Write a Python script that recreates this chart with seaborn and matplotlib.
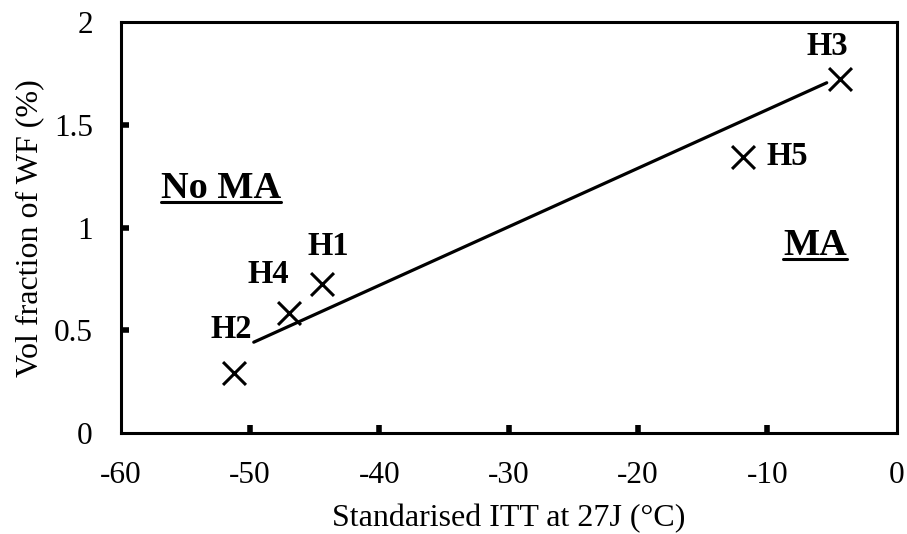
import matplotlib
matplotlib.use('Agg')
import matplotlib.pyplot as plt
import seaborn as sns
import pandas as pd
from matplotlib.lines import Line2D

# ---- data ----
samples = ['H2', 'H4', 'H1', 'H5', 'H3']
itt = [-51.2, -47.0, -44.4, -11.9, -4.4]
wf = [0.295, 0.584, 0.726, 1.346, 1.723]
trend_x = [-49.7, -5.4]
trend_y = [0.443, 1.706]
x_ticks = [-60, -50, -40, -30, -20, -10, 0]
y_ticks = [0, 0.5, 1, 1.5, 2]
y_tick_labels = ['0', '0.5', '1', '1.5', '2']
region_labels = ['No MA', 'MA']

df = pd.DataFrame({'sample': samples, 'itt': itt, 'wf': wf})
trend = pd.DataFrame({'x': trend_x, 'y': trend_y})

sns.set_theme(style='white')
plt.rcParams['font.family'] = ['Liberation Serif', 'DejaVu Serif']

fig = plt.figure(figsize=(9.07, 5.34), dpi=100)
ax = fig.add_axes([0.1329, 0.1888, 0.8556, 0.7693])

sns.lineplot(data=trend, x='x', y='y', ax=ax, color='black', linewidth=2.3)
sns.scatterplot(data=df, x='itt', y='wf', ax=ax, marker='x', s=16.5 ** 2,
                color='black', linewidth=2.2, zorder=3)

ax.set_xlim(-60, 0)
ax.set_ylim(0, 2)
ax.set_xticks(x_ticks)
ax.set_xticklabels([str(v) for v in x_ticks])
ax.set_yticks(y_ticks)
ax.set_yticklabels(y_tick_labels)
ax.tick_params(axis='both', direction='in', length=6, width=4, color='black',
               labelsize=22.5, labelcolor='black', bottom=True, left=True,
               top=False, right=False)
ax.tick_params(axis='x', pad=20)
ax.tick_params(axis='y', pad=20)
for s in ax.spines.values():
    s.set_color('black')
    s.set_linewidth(2.2)

# end ticks coincide with the frame: hide their marks
for axis in (ax.xaxis, ax.yaxis):
    ticks = axis.get_major_ticks()
    for tk in (ticks[0], ticks[-1]):
        tk.tick1line.set_visible(False)

ax.set_xlabel('Standarised ITT at 27J (°C)', fontsize=23, color='black', labelpad=10)
ax.set_ylabel('Vol fraction of WF (%)', fontsize=23, color='black', labelpad=7)

offsets = {'H2': (-2, 25), 'H4': (-14.4, 21.6), 'H1': (4.3, 20.9),
           'H5': (32.4, -5.8), 'H3': (-8.6, 17.3)}
for name, x, y in zip(samples, itt, wf):
    ax.annotate(name, xy=(x, y), xytext=offsets[name], textcoords='offset points',
                ha='center', va='baseline', fontsize=23.5, fontweight='bold',
                color='black')

reg_pos = [(-52.2, 1.145), (-6.3, 0.868)]
reg_texts = []
for lab, (x, y) in zip(region_labels, reg_pos):
    t = ax.text(x, y, lab, ha='center', va='baseline', fontsize=27.5,
                fontweight='bold', color='black')
    reg_texts.append((t, x, y))

fig.canvas.draw()
renderer = fig.canvas.get_renderer()
inv = fig.transFigure.inverted()
for t, x, y in reg_texts:
    bb = t.get_window_extent(renderer)
    bx, by = ax.transData.transform((x, y))
    uy = by - 4.5
    p0 = inv.transform((bb.x0, uy))
    p1 = inv.transform((bb.x1, uy))
    fig.add_artist(Line2D([p0[0], p1[0]], [p0[1], p1[1]], transform=fig.transFigure,
                          color='black', linewidth=2.2))

fig.savefig('out.png', dpi=100, facecolor='white')
